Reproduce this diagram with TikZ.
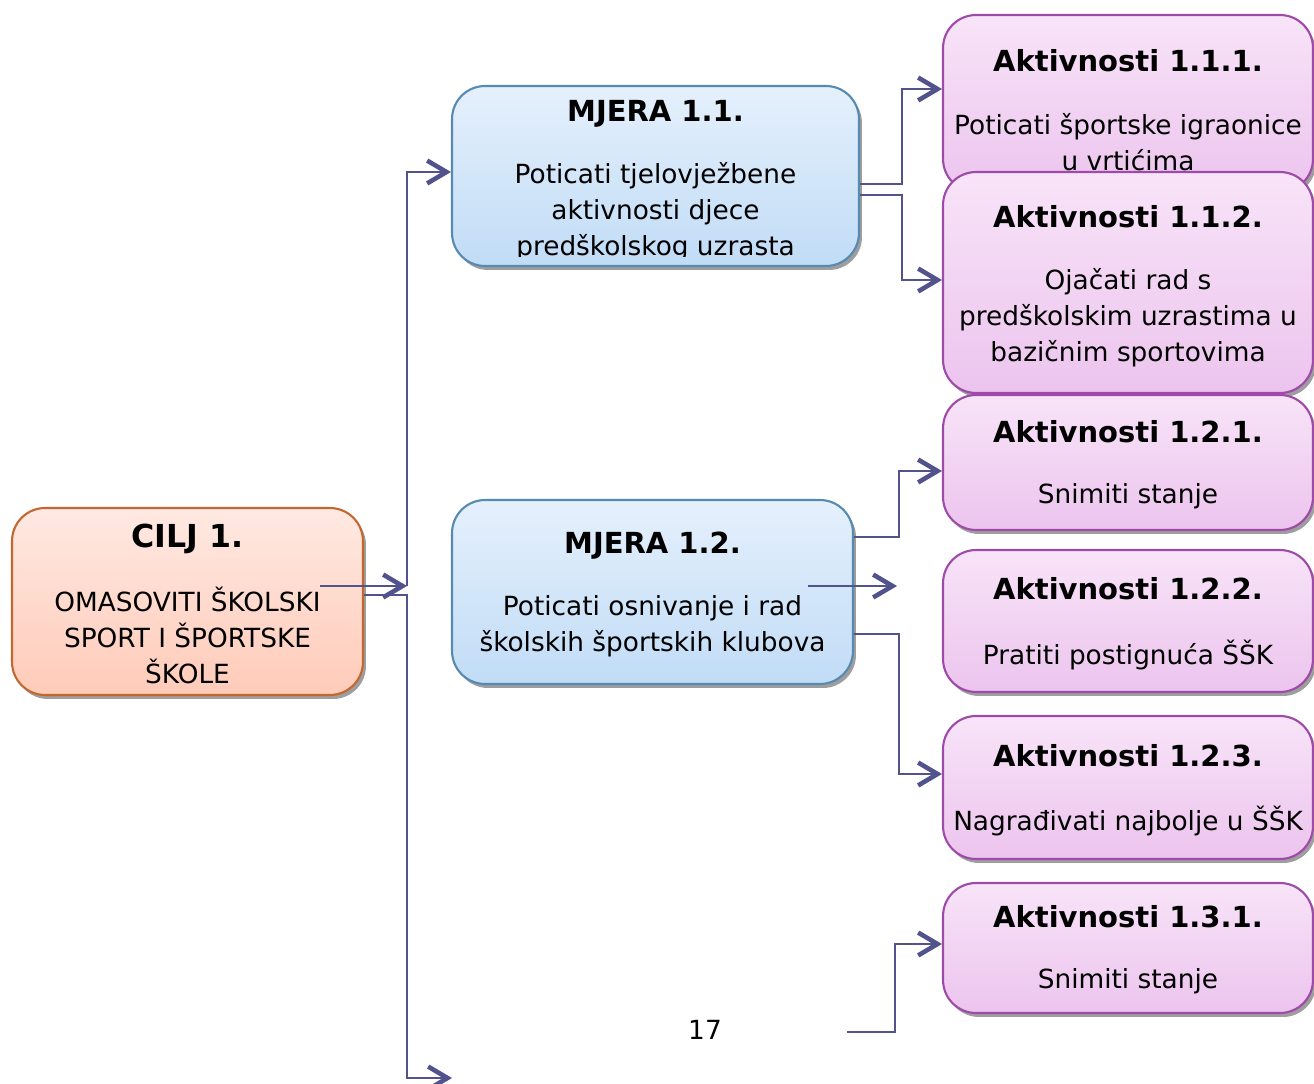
\documentclass[tikz,border=0pt]{standalone}
\usepackage{fontspec}
\setmainfont{DejaVu Sans}
\usetikzlibrary{arrows.meta,shadows}
\definecolor{ciljtop}{RGB}{255,233,226}
\definecolor{ciljbot}{RGB}{255,203,185}
\definecolor{ciljrub}{RGB}{196,102,48}
\definecolor{mjeratop}{RGB}{229,240,252}
\definecolor{mjerabot}{RGB}{193,220,246}
\definecolor{mjerarub}{RGB}{86,138,176}
\definecolor{akttop}{RGB}{248,228,248}
\definecolor{aktbot}{RGB}{236,196,238}
\definecolor{aktrub}{RGB}{158,74,168}
\definecolor{vezaboja}{RGB}{82,82,140}
\tikzset{
  kutija/.style={rounded corners=0.66cm, line width=1.2pt,
    drop shadow={shadow xshift=0.06cm, shadow yshift=-0.08cm, fill=black!38, opacity=1}},
  ciljbox/.style={kutija, draw=ciljrub, top color=ciljtop, bottom color=ciljbot},
  mjerabox/.style={kutija, draw=mjerarub, top color=mjeratop, bottom color=mjerabot},
  aktbox/.style={kutija, draw=aktrub, top color=akttop, bottom color=aktbot,
    minimum width=7.4cm},
  naslov/.style={font=\bfseries\fontsize{16.5}{20}\selectfont},
  tekst/.style={align=center, font=\fontsize{15}{20.5}\selectfont},
  veza/.style={draw=vezaboja, line width=1.1pt,
    -{Straight Barb[length=11pt,width=13pt,line width=2.6pt]}}
}

\begin{document}
\begin{tikzpicture}[x=0.02cm,y=-0.02cm]
  \useasboundingbox (0,0) rectangle (1314,1084);
  % cilj
  \node[ciljbox, minimum width=7.02cm, minimum height=3.74cm] (cilj) at (187.5,601.5) {};
  \node[font=\bfseries\fontsize{18}{22}\selectfont] (tcilj) at (187.5,539) {CILJ 1.};
  \node[tekst] (bcilj) at (187.5,635) {OMASOVITI ŠKOLSKI\\SPORT I ŠPORTSKE\\ŠKOLE};
  % mjere
  \node[mjerabox, minimum width=8.14cm, minimum height=3.6cm] (mjera11) at (655.5,176) {};
  \node[naslov] (tm11) at (655.5,114) {MJERA 1.1.};
  \begin{scope}
    \clip (452,86) rectangle (859,257);
    \node[tekst] (bm11) at (655.5,212) {Poticati tjelovježbene\\aktivnosti djece\\predškolskog uzrasta};
  \end{scope}
  \node[mjerabox, minimum width=8.02cm, minimum height=3.68cm] (mjera12) at (652.5,592) {};
  \node[naslov] (tm12) at (652.5,546) {MJERA 1.2.};
  \node[tekst] (bm12) at (652.5,626) {Poticati osnivanje i rad\\školskih športskih klubova};
  % aktivnosti
  \foreach \n/\y/\h/\ty/\t/\by/\txt in {
      111/103.5/3.54/61/1.1.1/142/{Poticati športske igraonice\\u vrtićima},
      112/282.5/4.42/217/1.1.2/318/{Ojačati rad s\\predškolskim uzrastima u\\bazičnim sportovima},
      121/462.5/2.7/432/1.2.1/496/{Snimiti stanje},
      122/621/2.84/589/1.2.2/655/{Pratiti postignuća ŠŠK},
      123/787.5/2.86/756/1.2.3/821/{Nagrađivati najbolje u ŠŠK},
      131/948/2.6/917/1.3.1/981/{Snimiti stanje}}{
    \node[aktbox, minimum height=\h cm] (akt\n) at (1128,\y) {};
    \node[naslov] (t\n) at (1128,\ty) {Aktivnosti \t.};
    \node[tekst] (b\n) at (1128,\by) {\txt};
  }
  \node[font=\fontsize{15}{18}\selectfont] (str) at (705,1030) {17};
  % veze
  \coordinate (s1) at (320,586);
  \coordinate (j1) at (407,586);
  \coordinate (m13) at (452,1078);
  \coordinate (s2) at (808,586);
  \coordinate (e2) at (897,586);
  \coordinate (s3) at (847,1032);
  \draw[veza] (s1) -- (j1);
  \draw[veza] (j1) |- (mjera11.west |- 0,172);
  \draw[veza] (cilj.east |- 0,595) -| (407,1078) -- (m13);
  \draw[veza] (mjera11.east |- 0,184) -- ++(42,0) |- (akt111.west |- 0,89);
  \draw[veza] (mjera11.east |- 0,195) -- ++(42,0) |- (akt112.west |- 0,280);
  \draw[veza] (mjera12.east |- 0,537) -- ++(45,0) |- (akt121.west |- 0,471);
  \draw[veza] (s2) -- (e2);
  \draw[veza] (mjera12.east |- 0,634) -- ++(45,0) |- (akt123.west |- 0,774);
  \draw[veza] (s3) -- ++(48,0) |- (akt131.west |- 0,944);
\end{tikzpicture}
\end{document}
